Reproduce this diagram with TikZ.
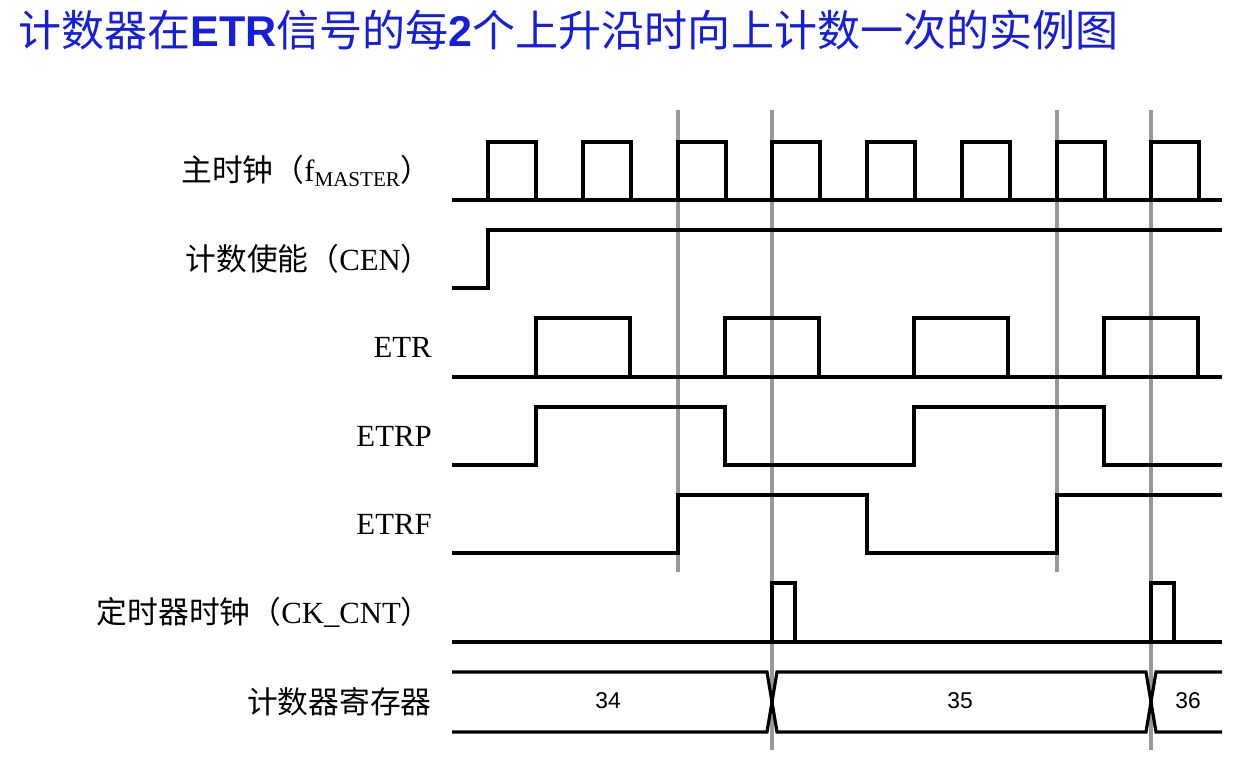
\documentclass[tikz,border=0pt]{standalone}
\usepackage{fontspec}
\setmainfont{Liberation Serif}
\newfontfamily\cjk{Noto Sans CJK SC}
\newfontfamily\titlesans{Liberation Sans}
\definecolor{titleblue}{RGB}{20,30,220}
\tikzset{
  wave/.style = {line width = 1.8pt, line join = miter},
  guide/.style = {line width = 2pt, draw = black!40},
  siglabel/.style = {anchor = east, font = \fontsize{17.5}{19}\selectfont, inner sep = 0pt},
  regval/.style = {font = \titlesans\fontsize{13}{15}\selectfont}
}
\begin{document}
\begin{tikzpicture}[x = 0.02cm, y = -0.02cm]
\useasboundingbox (0,0) rectangle (1257,759);

% title
\node (title) [anchor = west, text = titleblue, inner sep = 0pt,
	font = \fontsize{24.5}{27}\selectfont] at (18,30)
	{\cjk 计数器在\textbf{\titlesans ETR}信号的每\textbf{\titlesans 2}个上升沿时向上计数一次的实例图};

% guide lines
\draw [guide] (678,110) -- (678,572);
\draw [guide] (1057,110) -- (1057,572);
\draw [guide] (772,110) -- (772,750);
\draw [guide] (1151,110) -- (1151,750);

% labels
\node (Lclk) [siglabel] at (432,171) {\cjk 主时钟（\textrm{f\textsubscript{\fontsize{12}{13}\selectfont MASTER}}）};
\node (Lcen) [siglabel] at (432,259) {\cjk 计数使能（\textrm{CEN}）};
\node (Letr) [siglabel] at (432,347) {ETR};
\node (Letrp) [siglabel] at (432,436) {ETRP};
\node (Letrf) [siglabel] at (432,524) {ETRF};
\node (Lck) [siglabel] at (432,612) {\cjk 定时器时钟（\textrm{CK\_CNT}）};
\node (Lreg) [siglabel] at (432,702) {\cjk 计数器寄存器};

% master clock
\draw [wave] (452,200) -- (1222,200);
\foreach \r in {488,583,678,772,867,962,1057,1151}
	\draw [wave] (\r,200) -- (\r,142) -- (\r+48,142) -- (\r+48,200);

% CEN
\draw [wave] (452,288) -- (488,288) -- (488,230) -- (1222,230);

% ETR
\draw [wave] (452,377) -- (1222,377);
\foreach \r in {536,725,914,1104}
	\draw [wave] (\r,377) -- (\r,318) -- (\r+94,318) -- (\r+94,377);

% ETRP
\draw [wave] (452,465) -- (536,465) -- (536,407) -- (725,407) -- (725,465)
	-- (914,465) -- (914,407) -- (1104,407) -- (1104,465) -- (1222,465);

% ETRF
\draw [wave] (452,553) -- (678,553) -- (678,495) -- (867,495) -- (867,553)
	-- (1057,553) -- (1057,495) -- (1222,495);

% CK_CNT
\draw [wave] (452,642) -- (1222,642);
\foreach \r in {772,1151}
	\draw [wave] (\r,642) -- (\r,583) -- (\r+23,583) -- (\r+23,642);

% counter register
\draw [wave] (452,672) -- (767,672) -- (777,732) -- (1146,732) -- (1156,672) -- (1222,672);
\draw [wave] (452,732) -- (767,732) -- (777,672) -- (1146,672) -- (1156,732) -- (1222,732);
\node (v34) [regval] at (608,701) {34};
\node (v35) [regval] at (960,701) {35};
\node (v36) [regval] at (1188,701) {36};
\end{tikzpicture}
\end{document}
